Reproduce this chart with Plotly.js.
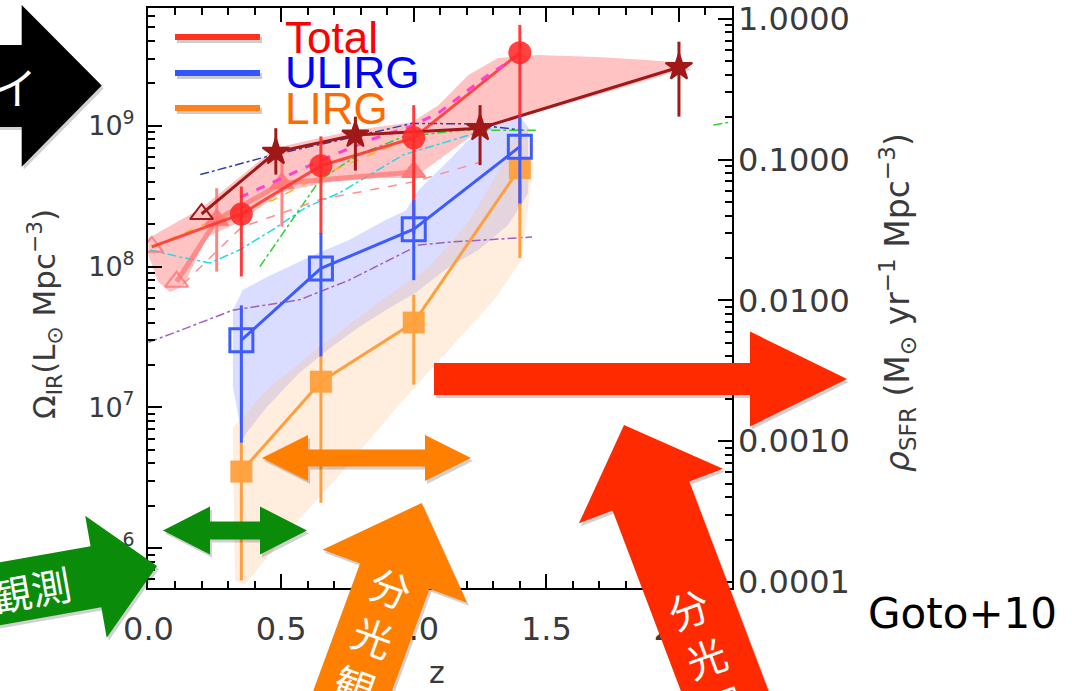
<!DOCTYPE html>
<html><head><meta charset="utf-8">
<script src="https://cdn.plot.ly/plotly-3.0.1.min.js"></script>
<style>html,body{margin:0;padding:0;background:#fff;overflow:hidden}#chart{width:1072px;height:691px}</style>
</head><body><div id="chart"></div>
<script>
// ---------------- data ----------------
const zGoto    = [0.35, 0.65, 1.0, 1.4];
const totalIR  = [2.36e8, 5.2e8, 8.2e8, 3.3e9];
const totalHi  = [3.7e8, 8.4e8, 1.4e9, 5.2e9];
const totalLo  = [8.5e7, 1.7e8, 1.7e8, 2.7e8];
const ulirgIR  = [3.0e7, 9.7e7, 1.84e8, 7.1e8];
const ulirgHi  = [5.3e7, 1.73e8, 2.97e8, 1.16e9];
const ulirgLo  = [5.6e6, 2.3e7, 8.0e7, 2.8e8];
const lirgIR   = [3.5e6, 1.52e7, 4.0e7, 5.0e8];
const lirgHi   = [5.6e6, 2.7e7, 6.3e7, 9.3e8];
const lirgLo   = [5.9e5, 2.1e6, 1.45e7, 1.15e8];

const localZ   = [0.012];
const localIR  = [1.38e8];

const starZ    = [0.2, 0.48, 0.78, 1.25, 2.0];
const starIR   = [2.36e8, 6.5e8, 8.6e8, 9.6e8, 2.6e9];
const starHi   = [2.36e8, 9.6e8, 1.16e9, 1.4e9, 3.95e9];
const starLo   = [2.36e8, 4.5e8, 4.8e8, 5.25e8, 1.16e9];

const pinkZ    = [0.012, 0.106, 0.257, 0.503, 1.0];
const pinkIR   = [1.38e8, 7.8e7, 2.14e8, 3.9e8, 4.7e8];
const pinkHi   = [1.38e8, 7.8e7, 3.6e8, 5.7e8, 6.7e8];
const pinkLo   = [1.38e8, 7.8e7, 9.2e7, 1.92e8, 1.73e8];

// model / literature curves
const magZ   = [0.345, 0.652, 0.832, 0.982, 1.093, 1.27, 1.356];
const magIR  = [3.1e8, 5.7e8, 7.9e8, 9.8e8, 1.23e9, 2.22e9, 2.83e9];
const navyZ  = [0.195, 0.469, 0.72, 0.995, 1.21, 1.41];
const navyIR = [4.5e8, 6.2e8, 7.9e8, 1.04e9, 1.03e9, 9.3e8];
const cyanZ  = [0.006, 0.118, 0.231, 0.343, 0.467, 0.595, 0.717, 0.96, 1.31];
const cyanIR = [1.31e8, 1.17e8, 1.06e8, 1.31e8, 1.82e8, 2.64e8, 3.31e8, 6.2e8, 9.8e8];
const greenZ  = [0.42, 0.53, 0.645, 0.79, 0.957, 1.182, 1.46];
const greenIR = [1.0e8, 2.0e8, 4.1e8, 6.2e8, 8.3e8, 9.3e8, 9.3e8];
const green2Z  = [2.13, 2.19];
const green2IR = [1.01e9, 1.06e9];
const purpZ  = [0.0, 0.09, 0.318, 0.569, 0.756, 1.019, 1.131, 1.446];
const purpIR = [2.9e7, 3.35e7, 4.9e7, 5.8e7, 8.0e7, 1.42e8, 1.49e8, 1.62e8];
const yelZ   = [0.012, 0.22, 0.47, 0.67, 0.99];
const yelIR  = [1.37e8, 2.03e8, 2.97e8, 4.6e8, 8.2e8];
const salZ   = [0.13, 0.35, 0.65, 1.0, 1.25];
const salIR  = [7.5e7, 1.9e8, 3.0e8, 4.0e8, 5.5e8];

// shaded envelopes (closed outlines)
const bandTotZ  = [0, 0.2, 0.478, 0.774, 0.993, 1.093, 1.206, 1.318, 1.468, 1.693, 1.88, 1.98, 2.05,
                   1.98, 1.693, 1.393, 1.247, 1.093, 1.0, 0.87, 0.682, 0.505, 0.343, 0.22, 0.13, 0.08, 0.036, 0];
const bandTotIR = [1.59e8, 2.6e8, 6.95e8, 9.3e8, 1.06e9, 1.4e9, 2.29e9, 3.03e9, 3.18e9, 3.08e9, 2.93e9, 2.83e9, 2.49e9,
                   2.4e9, 1.65e9, 1.14e9, 9.3e8, 5.7e8, 4.26e8, 4.26e8, 3.98e8, 3.39e8, 2.07e8, 1.62e8, 7.2e7, 6.6e7, 7.8e7, 1.2e8];
const bandUlZ  = [0.318, 0.355, 0.445, 0.606, 0.756, 0.894, 0.97, 1.019, 1.12, 1.206, 1.308, 1.405, 1.431,
                  1.431, 1.356, 1.244, 1.131, 1.007, 0.894, 0.793, 0.692, 0.568, 0.445, 0.37, 0.355, 0.318];
const bandUlIR = [4.9e7, 6.8e7, 8.4e7, 1.17e8, 1.54e8, 2.14e8, 2.5e8, 3.5e8, 5.4e8, 7.9e8, 1.05e9, 1.13e9, 9.8e8,
                  3.3e8, 1.97e8, 1.31e8, 9.9e7, 6.5e7, 4.9e7, 3.7e7, 2.7e7, 1.75e7, 1.0e7, 6.6e6, 5.9e6, 1.4e7];
const bandLiZ  = [0.318, 0.457, 0.644, 0.869, 1.056, 1.206, 1.318, 1.393, 1.438,
                  1.45, 1.405, 1.304, 1.131, 0.944, 0.719, 0.532, 0.363, 0.326];
const bandLiIR = [7.2e6, 1.39e7, 2.67e7, 5.6e7, 9.9e7, 2.07e8, 4.7e8, 9.0e8, 9.8e8,
                  5.1e8, 1.11e8, 5.8e7, 2.55e7, 1.04e7, 3.3e6, 1.35e6, 5.5e5, 5.9e5];

const xTickVals  = [0, 0.5, 1, 1.5, 2];
const xTickText  = ['0.0', '0.5', '1.0', '1.5', '2.0'];
const yTickVals  = [1e6, 1e7, 1e8, 1e9];
const yTickText  = ['10<sup>6</sup>', '10<sup>7</sup>', '10<sup>8</sup>', '10<sup>9</sup>'];
const y2TickVals = [1e-4, 1e-3, 1e-2, 1e-1, 1];
const y2TickText = ['0.0001', '0.0010', '0.0100', '0.1000', '1.0000'];
const sfrLogFactor = -9.76;   // rho_SFR = 1.72e-10 * Omega_IR
const legendNames  = ['Total', 'ULIRG', 'LIRG'];

// ---------------- helpers ----------------
const up = (v, hi) => v.map((x, i) => hi[i] - x);
const dn = (v, lo) => v.map((x, i) => x - lo[i]);
const L = 148, R = 732, T = 8, B = 588;
const fx = x => (x - L) / (R - L);
const fy = y => (B - y) / (B - T);
function path(pts) { return 'M ' + pts.map(p => fx(p[0]).toFixed(5) + ',' + fy(p[1]).toFixed(5)).join(' L ') + ' Z'; }
function arrow(tail, tip, sw, hl, hw) {
  const dx = tip[0] - tail[0], dy = tip[1] - tail[1], len = Math.hypot(dx, dy);
  const ux = dx / len, uy = dy / len, nx = -uy, ny = ux;
  const bx = tip[0] - ux * hl, by = tip[1] - uy * hl;
  return [[tail[0] + nx * sw, tail[1] + ny * sw], [bx + nx * sw, by + ny * sw], [bx + nx * hw, by + ny * hw], tip,
          [bx - nx * hw, by - ny * hw], [bx - nx * sw, by - ny * sw], [tail[0] - nx * sw, tail[1] - ny * sw]];
}
function dblArrow(a, b, sw, hl, hw) {
  const dx = b[0] - a[0], dy = b[1] - a[1], len = Math.hypot(dx, dy);
  const ux = dx / len, uy = dy / len, nx = -uy, ny = ux;
  const ax = a[0] + ux * hl, ay = a[1] + uy * hl, bx = b[0] - ux * hl, by = b[1] - uy * hl;
  return [a, [ax + nx * hw, ay + ny * hw], [ax + nx * sw, ay + ny * sw], [bx + nx * sw, by + ny * sw], [bx + nx * hw, by + ny * hw], b,
          [bx - nx * hw, by - ny * hw], [bx - nx * sw, by - ny * sw], [ax - nx * sw, ay - ny * sw], [ax - nx * hw, ay - ny * hw]];
}
function fromAngle(tip, dirx, diry, back) { return [tip[0] - dirx * back, tip[1] - diry * back]; }
const shp = (pts, color) => ({type: 'path', xref: 'paper', yref: 'paper', path: path(pts), fillcolor: color, line: {width: 0}, layer: 'above'});
const shadow = (pts) => shp(pts.map(p => [p[0] + 2, p[1] + 3]), 'rgba(0,0,0,0.18)');

// ---------------- traces ----------------
const traces = [
  {x: bandTotZ, y: bandTotIR, mode: 'lines', fill: 'toself', fillcolor: 'rgba(255,105,105,0.40)', line: {width: 0}},
  {x: bandUlZ, y: bandUlIR, mode: 'lines', fill: 'toself', fillcolor: 'rgba(120,130,255,0.27)', line: {width: 0}},
  {x: bandLiZ, y: bandLiIR, mode: 'lines', fill: 'toself', fillcolor: 'rgba(255,190,130,0.27)', line: {width: 0}},
  {x: purpZ, y: purpIR, mode: 'lines', line: {color: '#a060c0', width: 1.5, dash: 'dashdot'}},
  {x: cyanZ, y: cyanIR, mode: 'lines', line: {color: '#20d8f0', width: 1.5, dash: 'dashdot'}},
  {x: greenZ, y: greenIR, mode: 'lines', line: {color: '#30d030', width: 1.5, dash: 'dashdot'}},
  {x: green2Z, y: green2IR, mode: 'lines', line: {color: '#30d030', width: 1.5, dash: 'dashdot'}},
  {x: navyZ, y: navyIR, mode: 'lines', line: {color: '#3040a0', width: 1.5, dash: 'dashdot'}},
  {x: salZ, y: salIR, mode: 'lines', line: {color: '#ff9090', width: 1.5, dash: 'dash'}},
  {x: yelZ, y: yelIR, mode: 'lines', line: {color: '#ffb020', width: 1.5, dash: 'dash'}},
  {x: pinkZ.slice(1), y: pinkIR.slice(1), mode: 'lines', line: {color: 'rgba(255,120,120,0.75)', width: 5}},
  {x: pinkZ, y: pinkIR, mode: 'markers',
   marker: {symbol: ['triangle-up-open', 'triangle-up-open', 'triangle-up', 'triangle-up', 'triangle-up'], size: 20, color: 'rgba(255,120,120,0.85)', line: {width: 2, color: 'rgba(255,120,120,0.9)'}},
   error_y: {type: 'data', symmetric: false, array: up(pinkIR, pinkHi), arrayminus: dn(pinkIR, pinkLo), color: 'rgba(255,120,120,0.9)', thickness: 3, width: 0}},
  {x: localZ.concat(zGoto), y: localIR.concat(totalIR), mode: 'lines', line: {color: 'rgba(255,50,40,0.85)', width: 3}},
  {x: magZ, y: magIR, mode: 'lines', line: {color: '#ff40d0', width: 3, dash: 'dash'}},
  {x: starZ, y: starIR, mode: 'lines+markers', line: {color: '#a01818', width: 3},
   marker: {symbol: ['triangle-up-open', 'star', 'star', 'star', 'star'], size: 20, color: '#a01818', line: {width: 2, color: '#a01818'}},
   error_y: {type: 'data', symmetric: false, array: up(starIR, starHi), arrayminus: dn(starIR, starLo), color: '#a01818', thickness: 3, width: 0}},
  {x: zGoto, y: totalIR, mode: 'markers', marker: {symbol: 'circle', size: 23, color: 'rgba(255,40,40,0.88)'},
   error_y: {type: 'data', symmetric: false, array: up(totalIR, totalHi), arrayminus: dn(totalIR, totalLo), color: 'rgba(255,40,40,0.9)', thickness: 3, width: 0}},
  {x: zGoto, y: lirgIR, mode: 'lines+markers', line: {color: '#ffa040', width: 3},
   marker: {symbol: 'square', size: 22, color: 'rgba(255,160,60,0.95)'},
   error_y: {type: 'data', symmetric: false, array: up(lirgIR, lirgHi), arrayminus: dn(lirgIR, lirgLo), color: '#ffa040', thickness: 3, width: 0}},
  {x: zGoto, y: ulirgIR, mode: 'lines+markers', line: {color: '#3d5cff', width: 3},
   marker: {symbol: 'square-open', size: 23, color: '#3d5cff', line: {width: 3, color: '#3d5cff'}},
   error_y: {type: 'data', symmetric: false, array: up(ulirgIR, ulirgHi), arrayminus: dn(ulirgIR, ulirgLo), color: '#3d5cff', thickness: 3, width: 0}},
  // empty carriers so the extra axes (SFR scale and minor-tick axes) are drawn
  {x: [], y: [], xaxis: 'x', yaxis: 'y2', mode: 'markers'},
  {x: [], y: [], xaxis: 'x', yaxis: 'y3', mode: 'markers'},
  {x: [], y: [], xaxis: 'x', yaxis: 'y4', mode: 'markers'},
  {x: [], y: [], xaxis: 'x2', yaxis: 'y', mode: 'markers'}
];
traces.forEach(t => { t.showlegend = false; t.hoverinfo = 'skip'; });

// ---------------- minor tick positions ----------------
const minorL = [], minorR = [], minorX = [];
for (let e = 5; e <= 9; e++) for (let m = 2; m <= 9; m++) minorL.push(m * Math.pow(10, e));
for (let e = -5; e <= 0; e++) for (let m = 2; m <= 9; m++) minorR.push(m * Math.pow(10, e));
for (let k = 1; k <= 22; k++) if (k % 5) minorX.push(k / 10);

const grey = '#3a3a3a';
const tickFont = {family: 'DejaVu Sans', size: 32, color: grey};
const base = {showgrid: false, zeroline: false, ticks: 'inside', tickcolor: '#000', tickwidth: 2, ticklen: 14, tickmode: 'array',
              ticklabeloverflow: 'allow'};
const Y_RANGE = [5.717, 9.836];
const X_RANGE = [-0.002, 2.2];

// ---------------- overlay arrows ----------------
const blackArrow = [[-5, 45], [21.7, 45], [21.7, 5], [101.7, 85.5], [21.7, 166.7], [21.7, 127], [-5, 127]];
const cg = Math.cos(10 * Math.PI / 180), sg = Math.sin(10 * Math.PI / 180);
const greenBig = arrow(fromAngle([157, 566], cg, -sg, 300), [157, 566], 31, 62, 62);
const greenDbl = dblArrow([163, 530.5], [307, 530.5], 9, 47, 24);
const orangeDbl = dblArrow([262, 458], [471, 458], 8.5, 46, 23);
const orangeBig = arrow(fromAngle([421.7, 503], 0.345, -0.938, 400), [421.7, 503], 37, 78, 77);
const redBig = arrow(fromAngle([624, 425], -0.354, -0.935, 400), [624, 425], 41, 76, 77);
const redHoriz = arrow([434, 379], [847, 379], 16, 97, 47.5);

const GREEN = '#0a8c0a', ORANGE = '#ff7f00', RED = '#ff2a00';
const lineShape = (x0, x1, y, color) => ({type: 'line', xref: 'paper', yref: 'paper', x0: fx(x0), x1: fx(x1), y0: fy(y), y1: fy(y), line: {color, width: 6}});
const shapes = [
  lineShape(177, 262, 40, 'rgba(0,0,0,0.2)'), lineShape(177, 262, 76, 'rgba(0,0,0,0.2)'), lineShape(177, 262, 111, 'rgba(0,0,0,0.2)'),
  lineShape(175, 260, 37, '#ff3322'), lineShape(175, 260, 73, '#3355ff'), lineShape(175, 260, 108, '#ff7f1a'),
  shadow(blackArrow), shp(blackArrow, '#000'),
  shadow(greenDbl), shp(greenDbl, GREEN),
  shadow(orangeDbl), shp(orangeDbl, ORANGE),
  shadow(redHoriz), shp(redHoriz, RED),
  shadow(greenBig), shp(greenBig, GREEN),
  shadow(orangeBig), shp(orangeBig, ORANGE),
  shadow(redBig), shp(redBig, RED)
];

const ann = (x, y, text, font, extra) => Object.assign({xref: 'paper', yref: 'paper', x: fx(x), y: fy(y), text, font, showarrow: false,
  xanchor: 'center', yanchor: 'middle'}, extra || {});
const jp = (size) => ({family: 'Noto Sans CJK JP', size, color: '#fff'});
const annotations = [
  ann(283, 37, legendNames[0], {family: 'Liberation Sans', size: 44, color: '#ff0000'}, {xanchor: 'left'}),
  ann(283, 73, legendNames[1], {family: 'Liberation Sans', size: 44, color: '#0000ff'}, {xanchor: 'left'}),
  ann(283, 109, legendNames[2], {family: 'Liberation Sans', size: 44, color: '#ff6a00'}, {xanchor: 'left'}),
  ann(44, 314, 'Ω<sub>IR</sub>(L<sub>⊙</sub> Mpc<sup>−3</sup>)', {family: 'DejaVu Sans', size: 31, color: grey}, {textangle: -90}),
  ann(897, 303, '<i>ρ</i><sub>SFR</sub> (M<sub>⊙</sub> yr<sup>−1</sup> Mpc<sup>−3</sup>)', {family: 'DejaVu Sans', size: 33, color: grey}, {textangle: -90}),
  ann(437, 672, 'z', {family: 'DejaVu Sans', size: 30, color: grey}),
  ann(866, 613, 'Goto+10', {family: 'DejaVu Sans', size: 42, color: '#000'}, {xanchor: 'left'}),
  ann(15, 86, 'イ', jp(44)),
  ann(31, 589, '観測', jp(40), {textangle: -10}),
  ann(373, 636, '分<br>光<br>観', jp(40), {textangle: 20}),
  ann(706, 657, '分<br>光<br>観', jp(40), {textangle: -20})
];

const layout = {
  width: 1072, height: 691,
  margin: {l: L, r: 1072 - R, t: T, b: 691 - B, pad: 0},
  paper_bgcolor: '#fff', plot_bgcolor: 'rgba(0,0,0,0)',
  showlegend: false,
  xaxis: Object.assign({}, base, {range: X_RANGE, tickvals: xTickVals, ticktext: xTickText,
    showline: true, linewidth: 2, linecolor: '#000', mirror: 'ticks', tickfont: tickFont, ticklabelstandoff: 12}),
  xaxis2: Object.assign({}, base, {overlaying: 'x', anchor: 'y', side: 'bottom', range: X_RANGE, tickvals: minorX, ticklen: 7,
    showline: false, mirror: 'ticks', showticklabels: false}),
  yaxis: Object.assign({}, base, {type: 'log', range: Y_RANGE, tickvals: yTickVals, ticktext: yTickText,
    showline: true, linewidth: 2, linecolor: '#000', mirror: true,
    tickfont: {family: 'DejaVu Sans', size: 27, color: grey}, ticklabelstandoff: 6}),
  yaxis3: Object.assign({}, base, {type: 'log', overlaying: 'y', anchor: 'x', side: 'left', range: Y_RANGE, tickvals: minorL,
    ticklen: 7, showline: false, showticklabels: false}),
  yaxis2: Object.assign({}, base, {type: 'log', overlaying: 'y', anchor: 'x', side: 'right',
    range: [Y_RANGE[0] + sfrLogFactor, Y_RANGE[1] + sfrLogFactor], tickvals: y2TickVals, ticktext: y2TickText,
    showline: false, tickfont: tickFont, ticklabelstandoff: 5}),
  yaxis4: Object.assign({}, base, {type: 'log', overlaying: 'y', anchor: 'x', side: 'right',
    range: [Y_RANGE[0] + sfrLogFactor, Y_RANGE[1] + sfrLogFactor], tickvals: minorR, ticklen: 7, showline: false, showticklabels: false}),
  shapes, annotations
};

Plotly.newPlot('chart', traces, layout, {displayModeBar: false, staticPlot: true});
</script></body></html>
